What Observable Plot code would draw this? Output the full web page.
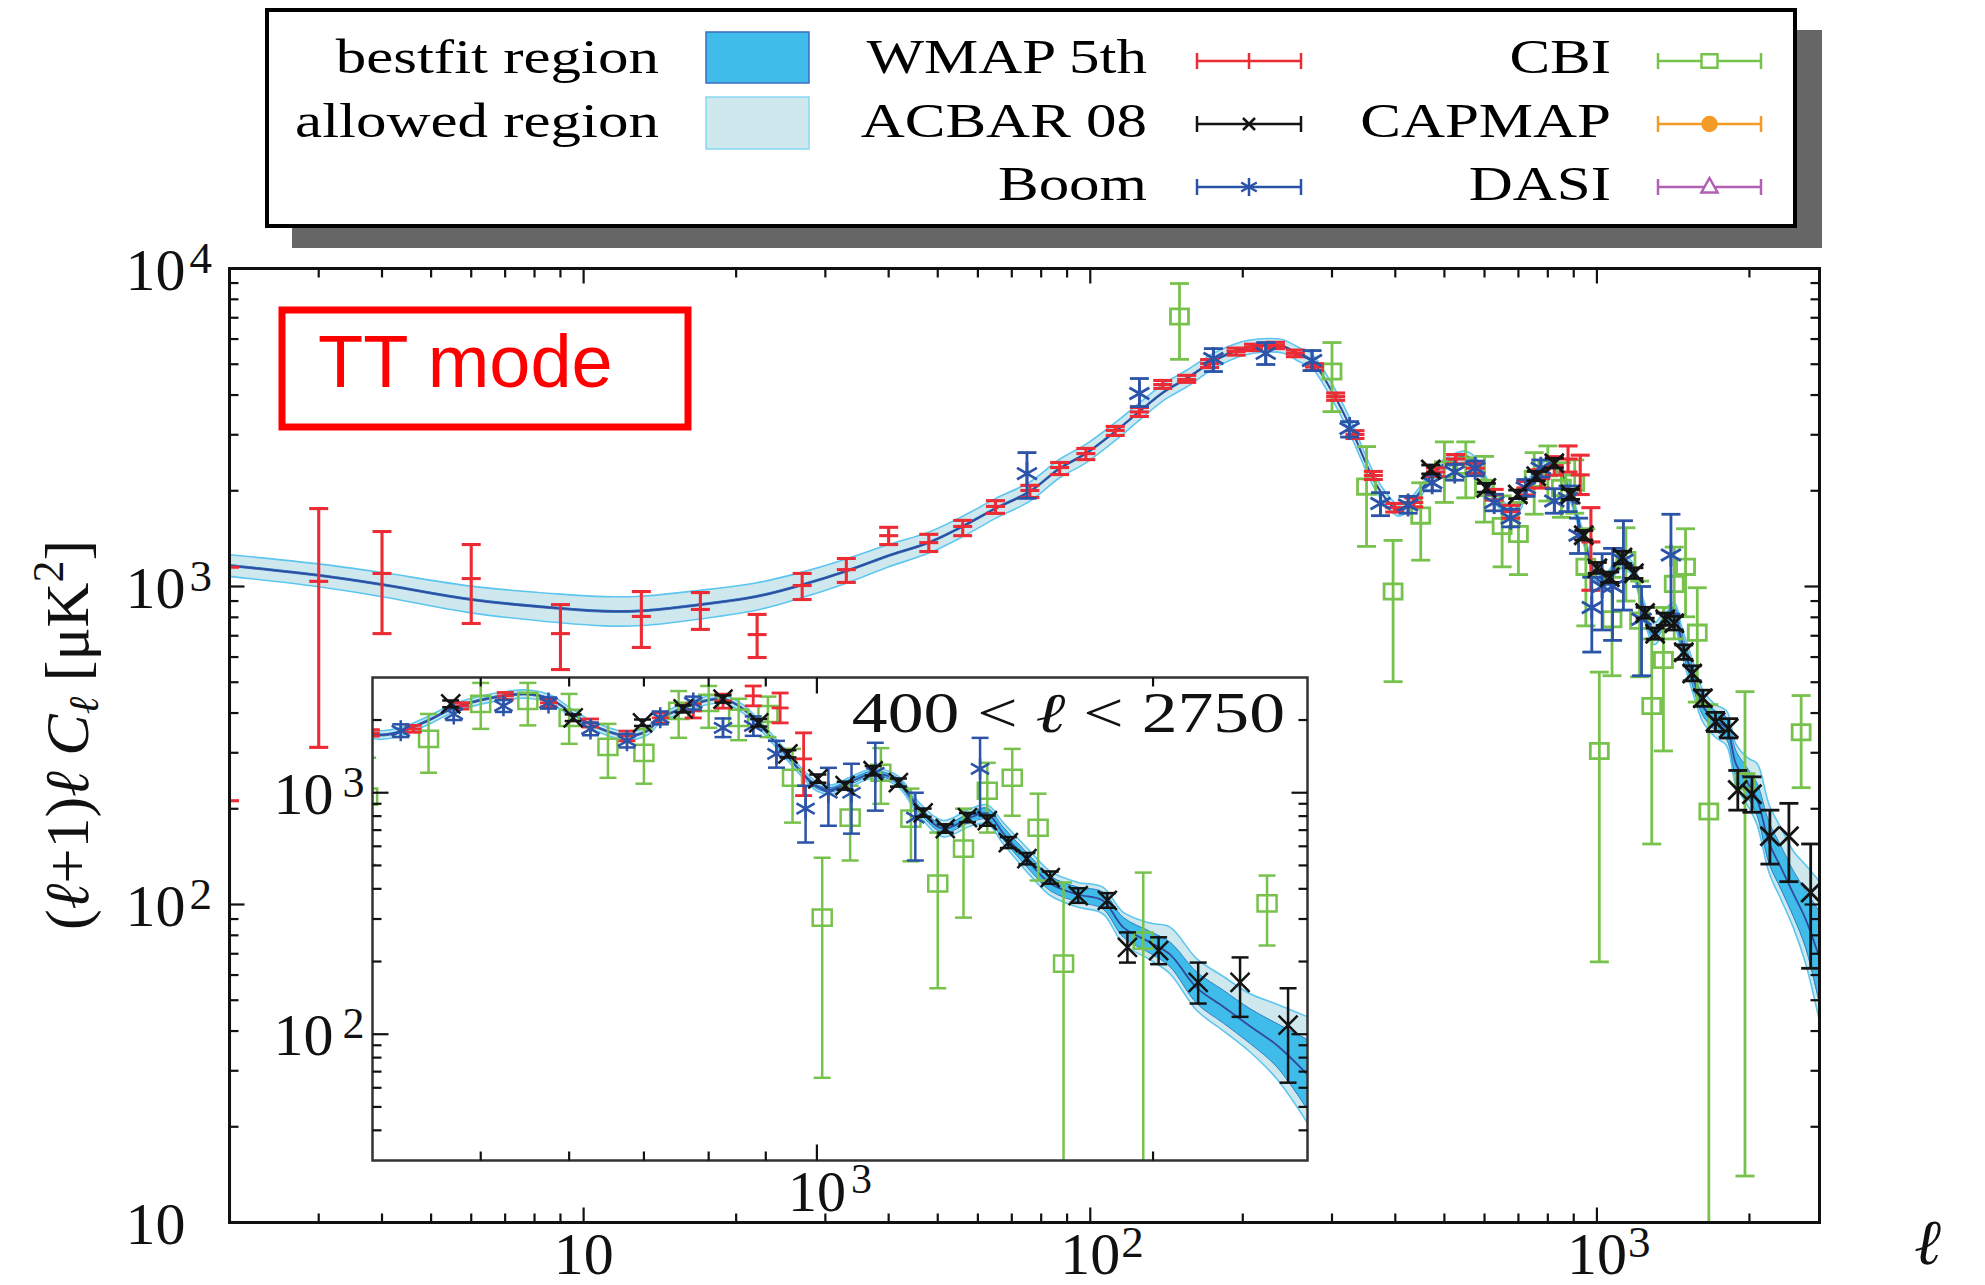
<!DOCTYPE html>
<html><head><meta charset="utf-8">
<script src="https://cdn.jsdelivr.net/npm/d3@7"></script>
<script src="https://cdn.jsdelivr.net/npm/@observablehq/plot@0.6"></script>
<style>
body{margin:0;background:#fff;}
#wrap{position:relative;width:1985px;height:1285px;overflow:hidden;background:#fff;}
#wrap svg{position:absolute;margin:0;max-width:none;}
</style>
</head><body><div id="wrap"></div>
<script>
// ---------------- DATA ----------------
// Theory band: multipole, best-fit spectrum (uK^2), band half-widths in dex
const thL = [2,3,4,6,9,11,13,17,22,27,33,40,48,56,65,76,87,98,112,125,140,155,176,200,221,240,260,273,303,327,364,387,405,424,448,473,500,532,551,577,605,631,676,705,724,755,775,824,859,890,927,961,1000,1030,1072,1123,1180,1238,1298,1371,1421,1469,1553,1618,1711,1803,1881,1988,2071,2188,2312,2443,2582,2750];
const thMid = [1164,1084,1014,910,853,836,838,877,931,1012,1118,1250,1374,1545,1759,1989,2350,2618,3070,3548,4100,4508,5140,5600,5731,5690,5330,5140,3990,3140,2138,1850,1735,1790,1985,2244,2420,2540,2560,2443,2119,1893,1720,1804,2023,2223,2330,2443,2223,1893,1535,1268,1060,1030,1110,1200,1122,843,710,789,818,678,509,421,379,358,277,240,214,156,130,108,90,68];
const allowedUp = [.034,.036,.038,.042,.045,.046,.046,.045,.043,.040,.038,.035,.033,.032,.031,.030,.029,.029,.028,.027,.026,.026,.024,.022,.021,.021,.022,.022,.024,.024,.022,.020,.018,.017,.017,.017,.017,.017,.017,.017,.017,.017,.017,.017,.017,.017,.017,.017,.017,.017,.017,.017,.018,.019,.020,.020,.022,.028,.034,.036,.037,.044,.050,.050,.051,.055,.062,.080,.113,.120,.125,.134,.170,.240];
const allowedDown = [.034,.036,.038,.042,.045,.046,.046,.045,.043,.040,.038,.035,.033,.032,.031,.030,.029,.029,.028,.027,.026,.026,.024,.022,.021,.021,.022,.022,.024,.024,.022,.020,.018,.017,.017,.017,.017,.017,.017,.017,.017,.017,.017,.017,.017,.017,.017,.017,.017,.017,.017,.017,.018,.019,.020,.020,.022,.028,.034,.036,.041,.044,.050,.050,.052,.055,.069,.072,.080,.094,.100,.107,.140,.200];
const bestUp = [.003,.003,.003,.003,.003,.003,.003,.003,.003,.003,.003,.003,.003,.003,.003,.003,.003,.003,.003,.003,.003,.003,.003,.003,.003,.003,.003,.003,.003,.003,.003,.003,.004,.004,.004,.004,.004,.004,.004,.004,.004,.004,.004,.004,.004,.004,.004,.004,.004,.004,.005,.006,.008,.009,.010,.010,.012,.014,.017,.020,.023,.026,.030,.030,.031,.035,.041,.045,.051,.065,.068,.072,.090,.145];
const bestDown = bestUp;

// WMAP 5th
const wmapL  = [2,3,4,6,9,13,17,22,27,33,40,48,56,65,76,87,98,112,125,139,155,172,194,210,232,254,277,305,333,362,399,435,480,526,575,627,676,724,775,824,877,927,973];
const wmapV  = [212,1038,1099,1059,711,805,847,706,1007,1130,1445,1374,1545,1786,2004,2366,2618,3097,3540,4315,4477,5023,5483,5650,5730,5410,4900,3955,3006,2235,1770,1838,2290,2518,2355,1946,1720,2042,2183,2399,2518,2244,1381];
const wmapLo = [10,312,711,765,548,643,733,598,910,1030,1355,1288,1445,1698,1905,2249,2506,2985,3426,4198,4385,4880,5340,5520,5600,5280,4780,3850,2920,2170,1715,1780,2220,2430,2270,1870,1640,1940,2040,2240,2290,1946,973];
const wmapHi = [1150,1758,1489,1355,877,964,957,817,1099,1225,1535,1459,1614,1862,2080,2455,2718,3187,3656,4446,4613,5170,5620,5780,5860,5540,5020,4060,3090,2300,1825,1900,2360,2600,2440,2020,1800,2140,2330,2560,2767,2588,1770];
// ACBAR 08
const acbarL  = [470,605,698,759,824,887,942,1002,1060,1123,1183,1245,1303,1364,1421,1484,1542,1618,1714,1820,1897,2023,2195,2393,2642];
const acbarV  = [2333,2042,1946,2223,2443,1946,1449,1142,1069,1233,1100,826,710,789,766,621,533,445,375,358,229,222,164,164,109];
const acbarLo = [2260,1980,1890,2150,2360,1880,1400,1100,1030,1180,1060,795,683,755,730,590,505,420,350,334,198,195,134,118,63];
const acbarHi = [2410,2110,2010,2300,2530,2020,1500,1190,1110,1290,1145,860,740,825,805,655,563,472,402,384,264,252,198,208,155];
// Boomerang
const boomL  = [75,125,175,222,274,325,374,424,473,524,575,627,676,724,775,824,877,920,977,1024,1074,1128,1225,1400];
const boomV  = [2265,4046,5212,5410,5140,3140,1824,1804,2119,2290,2355,1838,1640,2042,2355,1857,1893,1449,859,1000,1000,1210,789,1256];
const boomLo = [1893,3681,4742,4990,4775,2950,1670,1700,2000,2160,2230,1730,1540,1920,2210,1700,1720,1270,622,730,677,843,524,819];
const boomHi = [2637,4508,5598,5850,5520,3300,1973,1920,2240,2420,2480,1950,1750,2170,2500,2030,2070,1640,1069,1268,1318,1610,1000,1687];
// CBI
const cbiL  = [150,300,351,396,449,500,551,600,650,700,752,800,851,904,951,1011,1071,1141,1214,1283,1353,1421,1496,1578,1663,1960,2530];
const cbiV  = [7063,4742,2061,964,1671,2333,2399,2042,1549,1463,2183,2355,2042,2119,1153,304,789,1210,781,421,587,1019,1153,716,196,244,348];
const cbiLo = [5180,3548,1337,502,1210,1838,1900,1594,1153,1090,1688,1857,1650,1700,752,66,524,900,520,155,304,684,803,433,5,14,233];
const cbiHi = [8970,5850,2754,1396,2119,2849,2850,2565,1928,1838,2636,2767,2450,2500,1519,538,1069,1530,1040,684,859,1330,1519,991,425,467,454];
// CAPMAP, DASI (no points visible in the plotted range)
const capmapL = [], capmapV = [], capmapLo = [], capmapHi = [];
const dasiL = [], dasiV = [], dasiLo = [], dasiHi = [];

// Ticks and labels
const xMajor = [10,100,1000], xMajorExp = ["","2","3"];
const xMinor = [3,4,5,6,7,8,9,20,30,40,50,60,70,80,90,200,300,400,500,600,700,800,900,2000];
const yMajor = [10,100,1000,10000], yMajorExp = ["","2","3","4"];
const yMinor = [20,30,40,50,60,70,80,90,200,300,400,500,600,700,800,900,2000,3000,4000,5000,6000,7000,8000,9000];
const insXMajor = [1000], insXMajorExp = ["3"];
const insXMinor = [500,600,700,800,900,2000];
const insYMajor = [100,1000], insYMajorExp = ["2","3"];
const insYMinor = [40,50,60,70,80,90,200,300,400,500,600,700,800,900,2000];
const tickBase = "10";

const legendLeft = ["bestfit region","allowed region"];
const legendMid = ["WMAP 5th","ACBAR 08","Boom"];
const legendRight = ["CBI","CAPMAP","DASI"];
const annotation = "TT mode";
const insetTitle = ["400 < ","\u2113"," < 2750"];

// ---------------- STYLE ----------------
const serif = "'Liberation Serif','Times New Roman',Times,serif";
const C = {wmap:"#ec2b34", acbar:"#141414", boom:"#2b53a7", cbi:"#77c24c", capmap:"#f39a27", dasi:"#b160b4",
  allowed:"#cfe8ee", allowedEdge:"#5cc6ef", best:"#40bcea", bestEdge:"#2f7fc7", line:"#34499b"};

const rows = (L,V,Lo,Hi)=>L.map((l,i)=>({l, v:V[i], lo:Lo[i], hi:Hi[i]}));
const wmap = rows(wmapL,wmapV,wmapLo,wmapHi);
const acbar = rows(acbarL,acbarV,acbarLo,acbarHi);
const boom = rows(boomL,boomV,boomLo,boomHi);
const cbi = rows(cbiL,cbiV,cbiLo,cbiHi);
const capmap = rows(capmapL,capmapV,capmapLo,capmapHi);
const dasi = rows(dasiL,dasiV,dasiLo,dasiHi);
const theory = thL.map((l,i)=>({l, mid:thMid[i],
  aLo: thMid[i]*Math.pow(10,-allowedDown[i]), aHi: thMid[i]*Math.pow(10,allowedUp[i]),
  bLo: thMid[i]*Math.pow(10,-bestDown[i]), bHi: thMid[i]*Math.pow(10,bestUp[i])}));

const mk = f => ({draw(c,s){ f(c, Math.sqrt(s/Math.PI)); }});
const SYM = {
  hbar: mk((c,r)=>{c.moveTo(-r,0);c.lineTo(r,0);}),
  times: mk((c,r)=>{c.moveTo(-r,-r);c.lineTo(r,r);c.moveTo(-r,r);c.lineTo(r,-r);}),
  aster: mk((c,r)=>{const a=r*0.866,b=r*0.5;c.moveTo(0,-r);c.lineTo(0,r);c.moveTo(-a,-b);c.lineTo(a,b);c.moveTo(-a,b);c.lineTo(a,-b);}),
  box: mk((c,r)=>{c.rect(-r,-r*0.85,2*r,1.7*r);}),
  circ: mk((c,r)=>{c.moveTo(r,0);c.arc(0,0,r,0,2*Math.PI);}),
  tri: mk((c,r)=>{c.moveTo(0,-r);c.lineTo(r*0.9,r*0.6);c.lineTo(-r*0.9,r*0.6);c.closePath();}),
  up: mk((c,r)=>{c.moveTo(0,0);c.lineTo(0,-r);}),
  down: mk((c,r)=>{c.moveTo(0,0);c.lineTo(0,r);}),
  right: mk((c,r)=>{c.moveTo(0,0);c.lineTo(r,0);}),
  left: mk((c,r)=>{c.moveTo(0,0);c.lineTo(-r,0);})
};

function bandMarks(){
  const o = {x:"l", curve:"catmull-rom", clip:true};
  return [
    Plot.areaY(theory, {...o, y1:"aLo", y2:"aHi", fill:C.allowed}),
    Plot.line(theory, {...o, y:"aLo", stroke:C.allowedEdge, strokeWidth:1.6}),
    Plot.line(theory, {...o, y:"aHi", stroke:C.allowedEdge, strokeWidth:1.6}),
    Plot.areaY(theory, {...o, y1:"bLo", y2:"bHi", fill:C.best}),
    Plot.line(theory, {...o, y:"bLo", stroke:C.bestEdge, strokeWidth:1}),
    Plot.line(theory, {...o, y:"bHi", stroke:C.bestEdge, strokeWidth:1}),
    Plot.line(theory, {...o, y:"mid", stroke:C.line, strokeWidth:1.8})
  ];
}
function errMarks(data, color, marker, mr, capR, sw, filled){
  const o = {x:"l", stroke:color, strokeWidth:sw, clip:true};
  return [
    Plot.ruleX(data, {...o, y1:"lo", y2:"hi"}),
    Plot.dot(data, {...o, y:"lo", symbol:SYM.hbar, r:capR, fill:"none"}),
    Plot.dot(data, {...o, y:"hi", symbol:SYM.hbar, r:capR, fill:"none"}),
    Plot.dot(data, {...o, y:"v", symbol:marker, r:mr, fill: filled ? color : "none"})
  ];
}
function dataMarks(s){
  return [
    ...errMarks(cbi, C.cbi, SYM.box, s.box, s.cap, s.sw),
    ...errMarks(dasi, C.dasi, SYM.tri, s.box, s.cap, s.sw),
    ...errMarks(capmap, C.capmap, SYM.circ, s.box*0.8, s.cap, s.sw, true),
    ...errMarks(wmap, C.wmap, SYM.hbar, s.cap, s.cap, s.sw+0.3),
    ...errMarks(boom, C.boom, SYM.aster, s.ast, s.cap, s.sw),
    ...errMarks(acbar, C.acbar, SYM.times, s.x, s.cap, s.sw)
  ];
}
function tickMarks(xMaj, xMin, yMaj, yMin, major, minor, sw){
  const t = {stroke:"#111", strokeWidth:sw, fill:"none"};
  return [
    Plot.dot(xMaj, {...t, x:d=>d, frameAnchor:"bottom", symbol:SYM.up, r:major}),
    Plot.dot(xMin, {...t, x:d=>d, frameAnchor:"bottom", symbol:SYM.up, r:minor}),
    Plot.dot(xMaj, {...t, x:d=>d, frameAnchor:"top", symbol:SYM.down, r:major}),
    Plot.dot(xMin, {...t, x:d=>d, frameAnchor:"top", symbol:SYM.down, r:minor}),
    Plot.dot(yMaj, {...t, y:d=>d, frameAnchor:"left", symbol:SYM.right, r:major}),
    Plot.dot(yMin, {...t, y:d=>d, frameAnchor:"left", symbol:SYM.right, r:minor}),
    Plot.dot(yMaj, {...t, y:d=>d, frameAnchor:"right", symbol:SYM.left, r:major}),
    Plot.dot(yMin, {...t, y:d=>d, frameAnchor:"right", symbol:SYM.left, r:minor})
  ];
}

const wrap = document.getElementById("wrap");

// ---------------- MAIN PLOT ----------------
const xLab = xMajor.map((v,i)=>({v, exp:xMajorExp[i]}));
const yLab = yMajor.map((v,i)=>({v, exp:yMajorExp[i]}));
const txt = {fontFamily:serif, fill:"#111", lineAnchor:"bottom"};
const mainPlot = Plot.plot({
  width:1985, height:1285,
  marginLeft:229, marginRight:166, marginTop:268, marginBottom:63,
  x:{type:"log", domain:[2,2750], axis:null},
  y:{type:"log", domain:[10,10000], axis:null},
  style:{background:"transparent"},
  marks:[
    ...bandMarks(),
    ...dataMarks({cap:9.5, sw:2.8, box:9, ast:11.5, x:9.5}),
    Plot.frame({stroke:"#111", strokeWidth:3}),
    ...tickMarks(xMajor, xMinor, yMajor, yMinor, 15, 9, 2.2),
    Plot.text(yLab, {...txt, y:"v", frameAnchor:"left", text:()=>tickBase, textAnchor:"start", dx:-104, dy:21, fontSize:60}),
    Plot.text(yLab.filter(d=>d.exp), {...txt, y:"v", frameAnchor:"left", text:"exp", textAnchor:"start", dx:-40, dy:4, fontSize:45}),
    Plot.text(xLab, {...txt, x:"v", frameAnchor:"bottom", text:()=>tickBase, textAnchor:"middle", dy:51, fontSize:60}),
    Plot.text(xLab.filter(d=>d.exp), {...txt, x:"v", frameAnchor:"bottom", text:"exp", textAnchor:"start", dx:31, dy:34, fontSize:45})
  ]
});
mainPlot.style.left = "0px"; mainPlot.style.top = "0px";
wrap.append(mainPlot);

// ---------------- INSET ----------------
const ixLab = insXMajor.map((v,i)=>({v, exp:insXMajorExp[i]}));
const iyLab = insYMajor.map((v,i)=>({v, exp:insYMajorExp[i]}));
const inset = Plot.plot({
  width:1049, height:565,
  marginLeft:110, marginRight:4, marginTop:2, marginBottom:80,
  x:{type:"log", domain:[400,2750], axis:null},
  y:{type:"log", domain:[30,3000], axis:null},
  style:{background:"transparent"},
  marks:[
    Plot.frame({fill:"white", stroke:"none"}),
    ...bandMarks(),
    ...dataMarks({cap:8.5, sw:2.5, box:9.5, ast:10.5, x:9.5}),
    Plot.frame({stroke:"#333", strokeWidth:2.5}),
    ...tickMarks(insXMajor, insXMinor, insYMajor, insYMinor, 16, 9, 2.2),
    Plot.text(iyLab, {...txt, y:"v", frameAnchor:"left", text:()=>tickBase, textAnchor:"end", dx:-39, dy:21, fontSize:60}),
    Plot.text(iyLab, {...txt, y:"v", frameAnchor:"left", text:"exp", textAnchor:"end", dx:-8, dy:4, fontSize:44}),
    Plot.text(ixLab, {...txt, x:"v", frameAnchor:"bottom", text:()=>tickBase, textAnchor:"middle", dy:50, fontSize:58}),
    Plot.text(ixLab, {...txt, x:"v", frameAnchor:"bottom", text:"exp", textAnchor:"start", dx:34, dy:32, fontSize:42})
  ]
});
inset.style.left = (372-110)+"px"; inset.style.top = (677-2)+"px";
wrap.append(inset);

// ---------------- OVERLAY: legend, annotation, titles ----------------
const ov = d3.create("svg").attr("width",1985).attr("height",1285)
  .style("left","0px").style("top","0px").style("pointer-events","none");
ov.append("rect").attr("x",292).attr("y",30).attr("width",1530).attr("height",218).attr("fill","#666");
ov.append("rect").attr("x",267).attr("y",10).attr("width",1528).attr("height",216)
  .attr("fill","#fff").attr("stroke","#000").attr("stroke-width",4);
const rowBase = [73,137,200], rowMid = [61,124,187];
function legText(str, xr, y){
  ov.append("text").attr("transform",`translate(${xr},${y}) scale(1.27,1)`)
    .attr("text-anchor","end").attr("font-family",serif).attr("font-size",48).attr("fill","#000").text(str);
}
legendLeft.forEach((s,i)=>legText(s,659,rowBase[i]));
legendMid.forEach((s,i)=>legText(s,1147,rowBase[i]));
legendRight.forEach((s,i)=>legText(s,1611,rowBase[i]));
ov.append("rect").attr("x",706).attr("y",32).attr("width",103).attr("height",51).attr("fill",C.best).attr("stroke","#3a6cc0").attr("stroke-width",1.5);
ov.append("rect").attr("x",706).attr("y",97).attr("width",103).attr("height",52).attr("fill",C.allowed).attr("stroke","#86d8f3").attr("stroke-width",1.5);
function legBar(x0,x1,y,color,drawMarker){
  const g = ov.append("g").attr("stroke",color).attr("stroke-width",2.5).attr("fill","none");
  g.append("line").attr("x1",x0).attr("x2",x1).attr("y1",y).attr("y2",y);
  g.append("line").attr("x1",x0).attr("x2",x0).attr("y1",y-8).attr("y2",y+8);
  g.append("line").attr("x1",x1).attr("x2",x1).attr("y1",y-8).attr("y2",y+8);
  drawMarker(g,(x0+x1)/2,y);
}
const symPath = (s,r)=>{const p=d3.path(); s.draw(p, Math.PI*r*r); return p.toString();};
legBar(1197,1301,rowMid[0],C.wmap,(g,x,y)=>g.append("line").attr("x1",x).attr("x2",x).attr("y1",y-8).attr("y2",y+8));
legBar(1197,1301,rowMid[1],C.acbar,(g,x,y)=>g.append("path").attr("transform",`translate(${x},${y})`).attr("d",symPath(SYM.times,6)));
legBar(1197,1301,rowMid[2],C.boom,(g,x,y)=>g.append("path").attr("transform",`translate(${x},${y})`).attr("d",symPath(SYM.aster,9)));
legBar(1658,1761,rowMid[0],C.cbi,(g,x,y)=>g.append("path").attr("transform",`translate(${x},${y})`).attr("d",symPath(SYM.box,8)).attr("fill","#fff"));
legBar(1658,1761,rowMid[1],C.capmap,(g,x,y)=>g.append("circle").attr("cx",x).attr("cy",y).attr("r",7).attr("fill",C.capmap));
legBar(1658,1761,rowMid[2],C.dasi,(g,x,y)=>g.append("path").attr("transform",`translate(${x},${y})`).attr("d",symPath(SYM.tri,9)).attr("fill","#fff"));

// TT mode annotation
ov.append("rect").attr("x",282).attr("y",310).attr("width",406).attr("height",117)
  .attr("fill","none").attr("stroke","#ff0000").attr("stroke-width",7);
ov.append("text").attr("x",318).attr("y",387).attr("font-family","'Liberation Sans',Arial,sans-serif")
  .attr("font-size",74).attr("fill","#ff0000").text(annotation);

// inset title
const it = ov.append("text").attr("transform","translate(1285,732) scale(1.28,1)").attr("text-anchor","end")
  .attr("font-family",serif).attr("font-size",56).attr("fill","#111");
it.append("tspan").text(insetTitle[0]);
it.append("tspan").attr("font-style","italic").text(insetTitle[1]);
it.append("tspan").text(insetTitle[2]);

// y-axis title
const yt = ov.append("text").attr("transform","translate(88,735) rotate(-90)").attr("text-anchor","middle")
  .attr("font-family",serif).attr("font-size",62).attr("fill","#111");
yt.append("tspan").text("(");
yt.append("tspan").attr("font-style","italic").text("\u2113");
yt.append("tspan").text("+1)");
yt.append("tspan").attr("font-style","italic").text("\u2113 C");
yt.append("tspan").attr("font-style","italic").attr("font-size",42).attr("dy",10).text("\u2113");
yt.append("tspan").attr("dy",-10).text(" [\u03bcK");
yt.append("tspan").attr("font-size",44).attr("dy",-25).text("2");
yt.append("tspan").attr("dy",25).text("]");

// x-axis title
ov.append("text").attr("x",1914).attr("y",1264).attr("font-family",serif).attr("font-style","italic")
  .attr("font-size",64).attr("fill","#111").text("\u2113");

wrap.append(ov.node());
</script></body></html>
